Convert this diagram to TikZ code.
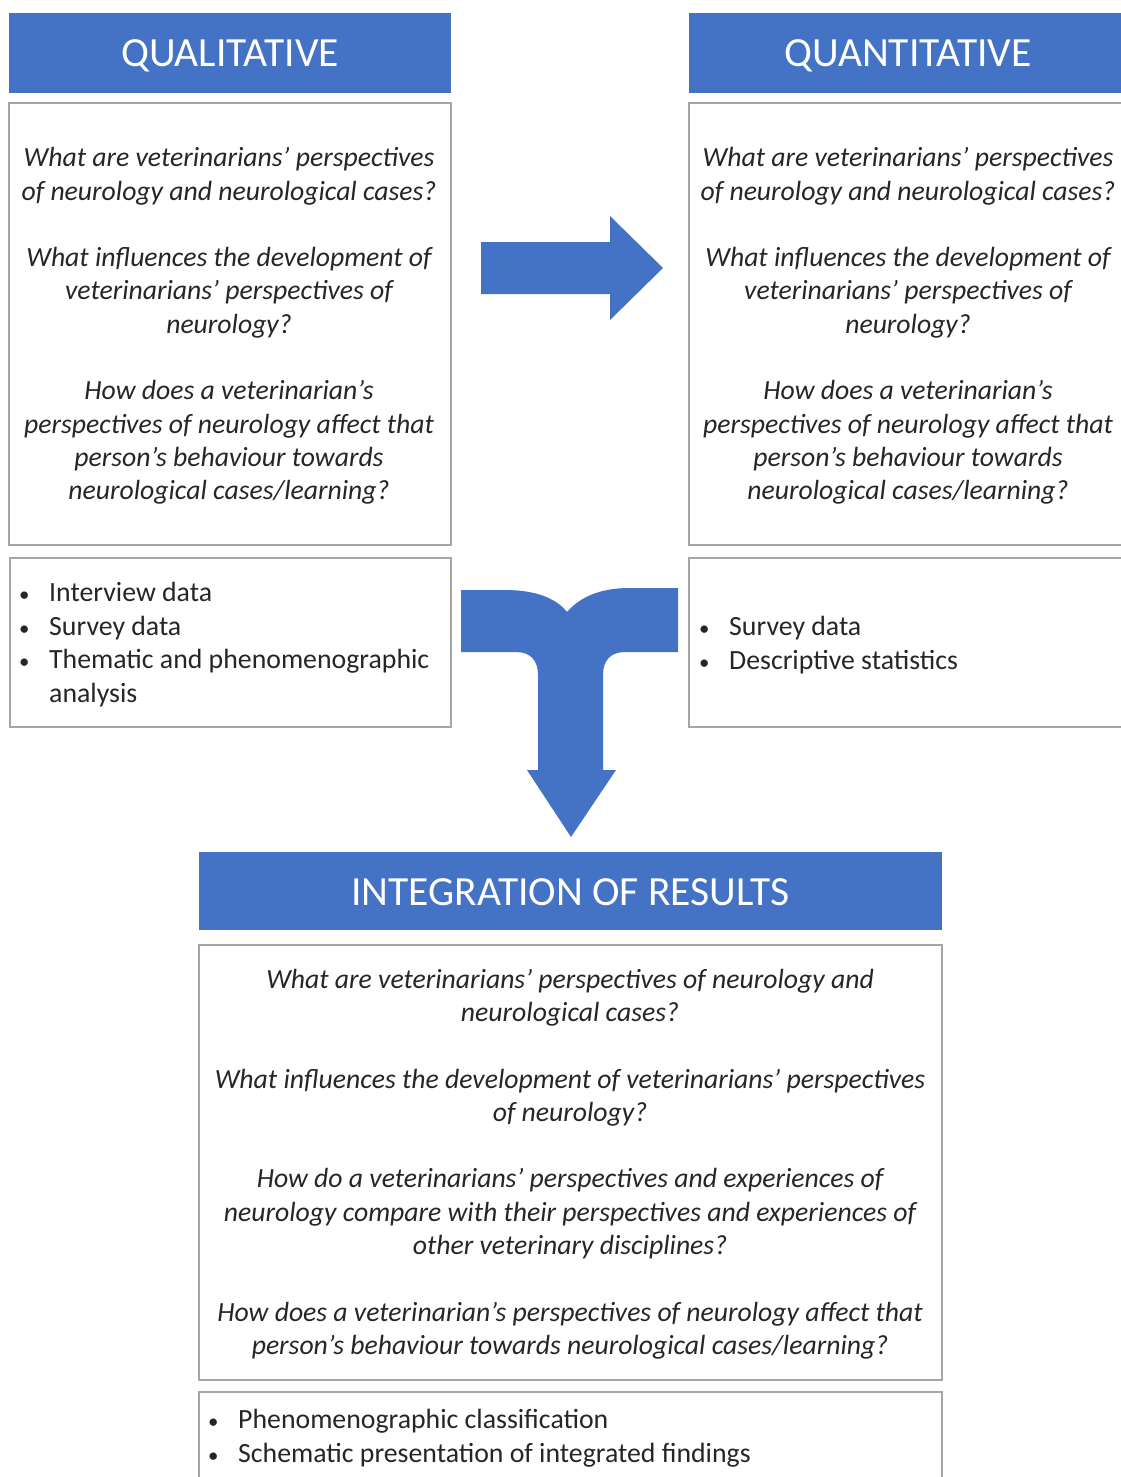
\documentclass[tikz,border=0pt]{standalone}
\usepackage{fontspec}
\setmainfont{Carlito}
\definecolor{hdrblue}{HTML}{4472C4}
\definecolor{boxline}{HTML}{A6A6A6}
\definecolor{txt}{HTML}{262626}
\begin{document}
\begin{tikzpicture}[x=1pt,y=-1pt,
  hdr/.style={fill=hdrblue,draw=none,text=white,font=\fontsize{41.5}{44}\selectfont,inner sep=0pt,anchor=center},
  qbox/.style={draw=boxline,line width=1.3pt,fill=white,inner sep=0pt},
  qtext/.style={text=txt,align=center,font=\fontsize{27.7}{33.3}\selectfont\itshape,inner sep=0pt},
  btext/.style={text=txt,align=left,font=\fontsize{27.8}{33.6}\selectfont,inner sep=0pt,anchor=north west},
  blockarrow/.style={fill=hdrblue,draw=none}
]
\useasboundingbox (0,0) rectangle (1121,1477);
\fill[white] (0,0) rectangle (1121,1477);

\newcommand{\bul}{\makebox[29pt][l]{\hspace*{-1pt}\scalebox{0.75}{•}}}
\newcommand{\gap}{\\[33.3pt]}

% ---- qualitative column ----
\node[hdr,minimum width=442,minimum height=80] (qlhead) at (230,53) {};
\node[hdr] (qlheadtext) at (230,55.5) {QUALITATIVE};
\node[qbox,minimum width=442,minimum height=442] (qlbox) at (230,324) {};
\node[qtext] (qltext) at (229,326) {What are veterinarians’ perspectives\\ of neurology and neurological cases?\gap
 What influences the development of\\ veterinarians’ perspectives of\\ neurology?\gap
 How does a veterinarian’s\\ perspectives of neurology affect that\\ person’s behaviour towards\\ neurological cases/learning?};
\node[qbox,minimum width=441,minimum height=169] (qlbul) at (230.5,642.5) {};
\node[btext] (qlbultext) at (20,582) {\bul Interview data\\ \bul Survey data\\ \bul Thematic and phenomenographic\\ \hspace*{29pt}analysis};

% ---- quantitative column ----
\node[hdr,minimum width=441,minimum height=80] (qnhead) at (909.5,53) {};
\node[hdr] (qnheadtext) at (908,55.5) {QUANTITATIVE};
\node[qbox,minimum width=441,minimum height=442] (qnbox) at (909.5,324) {};
\node[qtext] (qntext) at (908,326) {What are veterinarians’ perspectives\\ of neurology and neurological cases?\gap
 What influences the development of\\ veterinarians’ perspectives of\\ neurology?\gap
 How does a veterinarian’s\\ perspectives of neurology affect that\\ person’s behaviour towards\\ neurological cases/learning?};
\node[qbox,minimum width=441,minimum height=169] (qnbul) at (909.5,642.5) {};
\node[btext] (qnbultext) at (700,616) {\bul Survey data\\ \bul Descriptive statistics};

% ---- integration ----
\node[hdr,minimum width=743,minimum height=78] (inhead) at (570.5,891) {};
\node[hdr] (inheadtext) at (570.5,892.5) {INTEGRATION OF RESULTS};
\node[qbox,minimum width=743,minimum height=435] (inbox) at (570.5,1162.5) {};
\node[qtext] (intext) at (570,1164) {What are veterinarians’ perspectives of neurology and\\ neurological cases?\gap
 What influences the development of veterinarians’ perspectives\\ of neurology?\gap
 How do a veterinarians’ perspectives and experiences of\\ neurology compare with their perspectives and experiences of\\ other veterinary disciplines?\gap
 How does a veterinarian’s perspectives of neurology affect that\\ person’s behaviour towards neurological cases/learning?};
\node[qbox,minimum width=743,minimum height=100] (inbul) at (570.5,1442) {};
\node[btext] (inbultext) at (209,1409) {\bul Phenomenographic classification\\ \bul Schematic presentation of integrated findings};

% ---- block arrow: qualitative -> quantitative ----
\fill[blockarrow] (481,242) -- (610,242) -- (610,216) -- (663,268)
  -- (610,320) -- (610,294) -- (481,294) -- cycle;

% ---- merging arrow down to the integration ----
\fill[blockarrow] (461,590) -- (505,590)
  .. controls (535,590) and (556,598) .. (567,612)
  .. controls (580,597) and (600,588) .. (630,588)
  -- (678,588) -- (678,652) -- (625,652)
  .. controls (611,652) and (603,660) .. (603,675)
  -- (603,770) -- (616,770) -- (571,837) -- (527,770) -- (538,770)
  -- (538,675)
  .. controls (538,660) and (530,652) .. (516,652)
  -- (461,652) -- cycle;
\end{tikzpicture}
\end{document}
